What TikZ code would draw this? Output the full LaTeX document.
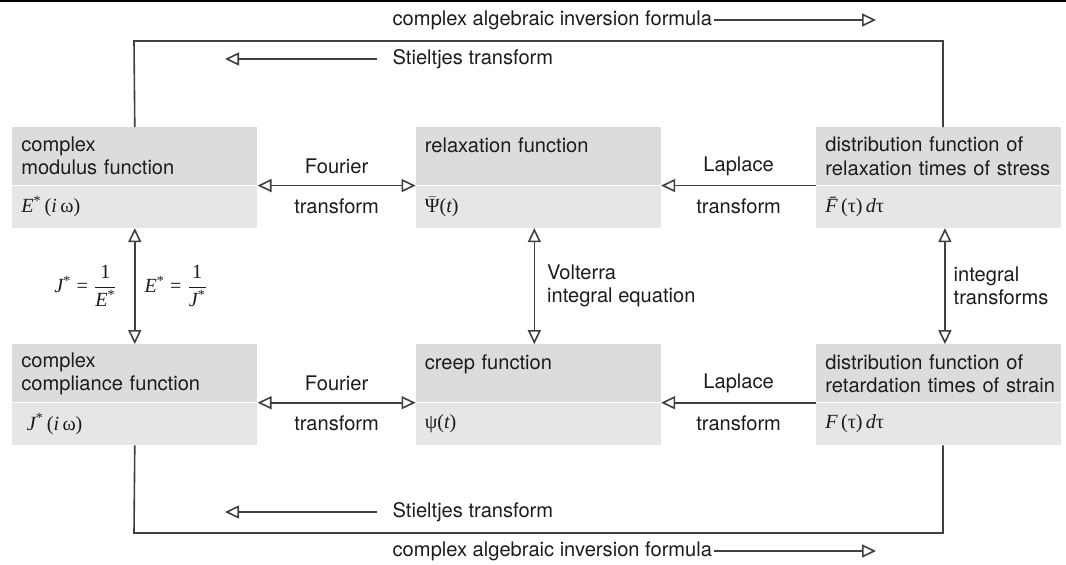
\documentclass[tikz,border=0pt]{standalone}
\usepackage{amsmath}
\usepackage{fontspec}
\setmainfont{TeX Gyre Heros}
\newfontfamily\fserif{Liberation Serif}
\usetikzlibrary{arrows.meta,positioning}

\definecolor{boxtop}{HTML}{DCDCDC}
\definecolor{boxlow}{HTML}{E6E6E6}
\definecolor{linec}{HTML}{404040}
\definecolor{ink}{HTML}{1C1C1C}

% serif variables for the formulas
\newcommand{\vi}[1]{{\fserif\itshape #1}}
\newcommand{\up}[1]{{\fserif #1}}
\newcommand{\st}{\textsuperscript{\fserif *}}

\begin{document}
\begin{tikzpicture}[x=0.25mm, y=-0.25mm, font=\fontsize{14.3}{16.4}\selectfont, text=ink,
  head/.style={fill=boxtop, minimum width=61.25mm, minimum height=14.5mm, text width=56.75mm, inner xsep=2.25mm, inner ysep=0pt, align=left},
  body/.style={fill=boxlow, minimum width=61.25mm, minimum height=10.5mm, text width=56.75mm, inner xsep=2.25mm, inner ysep=0pt, align=left},
  wire/.style={draw=linec, line width=0.4mm},
  arrow/.style={wire, -{Triangle[open, length=3.5mm, width=3.25mm]}},
  twoway/.style={wire, {Triangle[open, length=3.5mm, width=3.25mm]}-{Triangle[open, length=3.5mm, width=3.25mm]}},
  lbl/.style={inner sep=1pt}]
  \useasboundingbox (0,0) rectangle (1066,564);
  \fill[black] (0,0) rectangle (1066,2);

  % upper row
  \node[head, anchor=north west] (modt) at (12,127) {complex\\modulus function};
  \node[body, below=0pt of modt] (mod) {\vi{E}\st\,\up{(}\vi{i}\,\up{ω)}};
  \node[head, right=39.5mm of modt] (relt) {relaxation function\\\mbox{}};
  \node[body, below=0pt of relt] (rel) {$\bar{\mbox{\up{Ψ}}}$\up{(}\vi{t}\up{)}};
  \node[head, right=38.75mm of relt] (dstt) {distribution function of\\\mbox{relaxation times of stress}};
  \node[body, below=0pt of dstt] (dst) {\vi{\=F}\,\up{(τ)}\,\vi{d}\up{τ}};

  % lower row
  \node[head, below=29mm of mod] (cmpt) {complex\\compliance function};
  \node[body, below=0pt of cmpt] (cmp) {\;\vi{J}\st\,\up{(}\vi{i}\,\up{ω)}};
  \node[head, below=29mm of rel] (crpt) {creep function\\\mbox{}};
  \node[body, below=0pt of crpt] (crp) {\up{ψ(}\vi{t}\up{)}};
  \node[head, below=29mm of dst] (rett) {distribution function of\\\mbox{retardation times of strain}};
  \node[body, below=0pt of rett] (ret) {\vi{F}\,\up{(τ)}\,\vi{d}\up{τ}};

  % transforms between the boxes
  \draw[twoway] (modt.south east) -- (relt.south west)
    node[lbl, midway, yshift=4.75mm] {Fourier} node[lbl, midway, yshift=-5.25mm] {transform};
  \draw[arrow] (dstt.south west) -- (relt.south east)
    node[lbl, midway, yshift=4.75mm] {Laplace} node[lbl, midway, yshift=-5.25mm] {transform};
  \draw[twoway] (cmpt.south east) -- (crpt.south west)
    node[lbl, midway, yshift=4.75mm] {Fourier} node[lbl, midway, yshift=-5.25mm] {transform};
  \draw[arrow] (rett.south west) -- (crpt.south east)
    node[lbl, midway, yshift=4.75mm] {Laplace} node[lbl, midway, yshift=-5.25mm] {transform};

  \draw[twoway] (mod.south) -- (cmpt.north)
    node[lbl, midway, left=3.9mm] {$\mbox{\vi{J}\st}\mathrel{\mbox{\up{=}}}\dfrac{\mbox{\up{1}}}{\mbox{\vi{E}\st}}$}
    node[lbl, midway, right=1.9mm] {$\mbox{\vi{E}\st}\mathrel{\mbox{\up{=}}}\dfrac{\mbox{\up{1}}}{\mbox{\vi{J}\st}}$};
  \draw[twoway] ([xshift=-1mm]rel.south) -- ([xshift=-1mm]crpt.north)
    node[lbl, midway, right=2.65mm, align=left] {Volterra\\integral equation};
  \draw[twoway] ([xshift=1.5mm]dst.south) -- ([xshift=1.5mm]rett.north)
    node[lbl, midway, right=1.65mm, align=left] {integral\\transforms};

  % outer loops
  \coordinate (ltop) at (134,41);
  \coordinate (rtop) at (943,41);
  \coordinate (lbot) at (134,533);
  \coordinate (rbot) at (943,533);
  \draw[wire] (modt.north) -- (ltop) -- (rtop) -- (rtop |- dstt.north);
  \draw[wire] (cmp.south) -- (lbot) -- (rbot) -- (rbot |- ret.south);

  \node[lbl, anchor=west] (inv1) at (391,20) {complex algebraic inversion formula};
  \coordinate (inv1end) at (876,20);
  \draw[arrow] (inv1.east) -- (inv1end);
  \node[lbl, anchor=west] (stj1) at (391,59) {Stieltjes transform};
  \coordinate (stj1end) at (225,59);
  \draw[arrow, shorten <=3.5mm] (stj1.west) -- (stj1end);

  \node[lbl, anchor=west] (stj2) at (391,512) {Stieltjes transform};
  \coordinate (stj2end) at (225,512);
  \draw[arrow, shorten <=3.5mm] (stj2.west) -- (stj2end);
  \node[lbl, anchor=west] (inv2) at (391,551) {complex algebraic inversion formula};
  \coordinate (inv2end) at (876,551);
  \draw[arrow] (inv2.east) -- (inv2end);
\end{tikzpicture}
\end{document}
